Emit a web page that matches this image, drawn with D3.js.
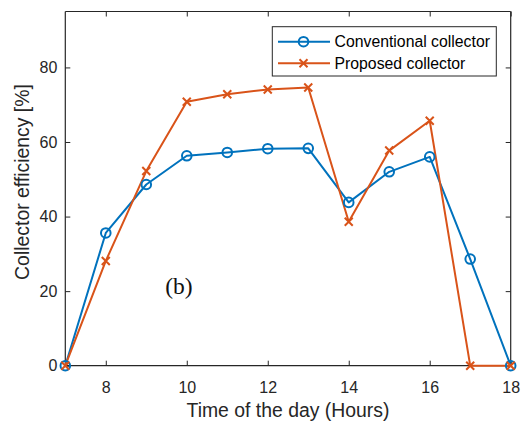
<!DOCTYPE html>
<html>
<head>
<meta charset="utf-8">
<script src="https://cdn.jsdelivr.net/npm/d3@7"></script>
<style>
  html, body { margin: 0; padding: 0; background: #fff; }
  svg { display: block; font-family: "Liberation Sans", Arial, sans-serif; }
</style>
</head>
<body>
<svg id="chart" width="521" height="423"></svg>
<script>
// Hours of the day
const hours = [7, 8, 9, 10, 11, 12, 13, 14, 15, 16, 17, 18];
// Collector efficiency [%]
const conventional = [0, 35.6, 48.6, 56.3, 57.2, 58.2, 58.3, 43.8, 52.0, 56.0, 28.6, 0];
const proposed     = [0, 28.1, 52.2, 70.8, 72.8, 74.1, 74.6, 38.6, 57.7, 65.7, 0, 0];
const xTicks = [8, 10, 12, 14, 16, 18];
const yTicks = [0, 20, 40, 60, 80];
const seriesNames = ["Conventional collector", "Proposed collector"];

const colors = ["#0072BD", "#D95319"];
const axisColor = "#262626";

const svg = d3.select("#chart");
const m = { left: 65.3, top: 11.5, right: 510.7, bottom: 365.7 };

const x = d3.scaleLinear().domain([7, 18]).range([m.left, m.right]);
const y = d3.scaleLinear().domain([0, 95]).range([m.bottom, m.top]);

// Axes (box with inward ticks on all four sides)
const tickLen = 5;
const gx = svg.append("g").attr("transform", `translate(0,${m.bottom})`)
  .call(d3.axisBottom(x).tickValues(xTicks).tickSize(-tickLen).tickPadding(15.5).tickFormat(d3.format("d")));
const gxt = svg.append("g").attr("transform", `translate(0,${m.top})`)
  .call(d3.axisTop(x).tickValues(xTicks).tickSize(-tickLen).tickFormat(""));
const gy = svg.append("g").attr("transform", `translate(${m.left},0)`)
  .call(d3.axisLeft(y).tickValues(yTicks).tickSize(-tickLen).tickPadding(8).tickFormat(d3.format("d")));
const gyr = svg.append("g").attr("transform", `translate(${m.right},0)`)
  .call(d3.axisRight(y).tickValues(yTicks).tickSize(-tickLen).tickFormat(""));

[gx, gxt, gy, gyr].forEach(g => {
  g.select(".domain").attr("stroke", axisColor).attr("stroke-width", 1.2);
  g.selectAll(".tick line").attr("stroke", axisColor).attr("stroke-width", 1);
  g.selectAll(".tick text").attr("fill", axisColor)
    .style("font-size", "16px").style("font-family", '"Liberation Sans", Arial, sans-serif');
});
// Full-length box edges
gxt.select(".domain").attr("d", `M${m.left},0H${m.right}`);
gyr.select(".domain").attr("d", `M0,${m.top}V${m.bottom}`);
gx.select(".domain").attr("d", `M${m.left},0H${m.right}`);
gy.select(".domain").attr("d", `M0,${m.top}V${m.bottom}`);

// Axis labels
svg.append("text")
  .attr("x", 288).attr("y", 416.5)
  .attr("text-anchor", "middle").attr("fill", axisColor)
  .style("font-size", "19.4px")
  .text("Time of the day (Hours)");
svg.append("text")
  .attr("transform", `translate(29,182) rotate(-90)`)
  .attr("text-anchor", "middle").attr("fill", axisColor)
  .style("font-size", "19.4px")
  .text("Collector efficiency [%]");

// Series
const data = [conventional, proposed];
const line = d3.line().x((d, i) => x(hours[i])).y(d => y(d));

data.forEach((vals, k) => {
  svg.append("path").datum(vals)
    .attr("d", line).attr("fill", "none")
    .attr("stroke", colors[k]).attr("stroke-width", 2)
    .attr("stroke-linejoin", "round");
});

function drawMarker(g, k, cx, cy) {
  if (k === 0) {
    g.append("circle").attr("cx", cx).attr("cy", cy).attr("r", 4.8)
      .attr("fill", "none").attr("stroke", colors[k]).attr("stroke-width", 2);
  } else {
    const s = 4;
    g.append("path")
      .attr("d", `M${cx - s},${cy - s}L${cx + s},${cy + s}M${cx - s},${cy + s}L${cx + s},${cy - s}`)
      .attr("stroke", colors[k]).attr("stroke-width", 2).attr("fill", "none");
  }
}

data.forEach((vals, k) => {
  const g = svg.append("g");
  vals.forEach((v, i) => drawMarker(g, k, x(hours[i]), y(v)));
});

// Panel tag
svg.append("text")
  .attr("x", 179).attr("y", 294)
  .attr("text-anchor", "middle")
  .style("font-family", '"Liberation Serif", "Times New Roman", serif')
  .style("font-size", "23.5px").attr("fill", "#111")
  .text("(b)");

// Legend
const lg = svg.append("g");
lg.append("rect")
  .attr("x", 272.3).attr("y", 26.7).attr("width", 224).attr("height", 49.3)
  .attr("fill", "#fff").attr("stroke", axisColor).attr("stroke-width", 1);
seriesNames.forEach((name, k) => {
  const ly = 41.7 + k * 21.5;
  lg.append("line").attr("x1", 278).attr("x2", 330).attr("y1", ly).attr("y2", ly)
    .attr("stroke", colors[k]).attr("stroke-width", 2);
  drawMarker(lg, k, 303.5, ly);
  lg.append("text").attr("x", 334.5).attr("y", ly + 5.5)
    .attr("fill", "#000").style("font-size", "15.8px").text(name);
});
</script>
</body>
</html>
